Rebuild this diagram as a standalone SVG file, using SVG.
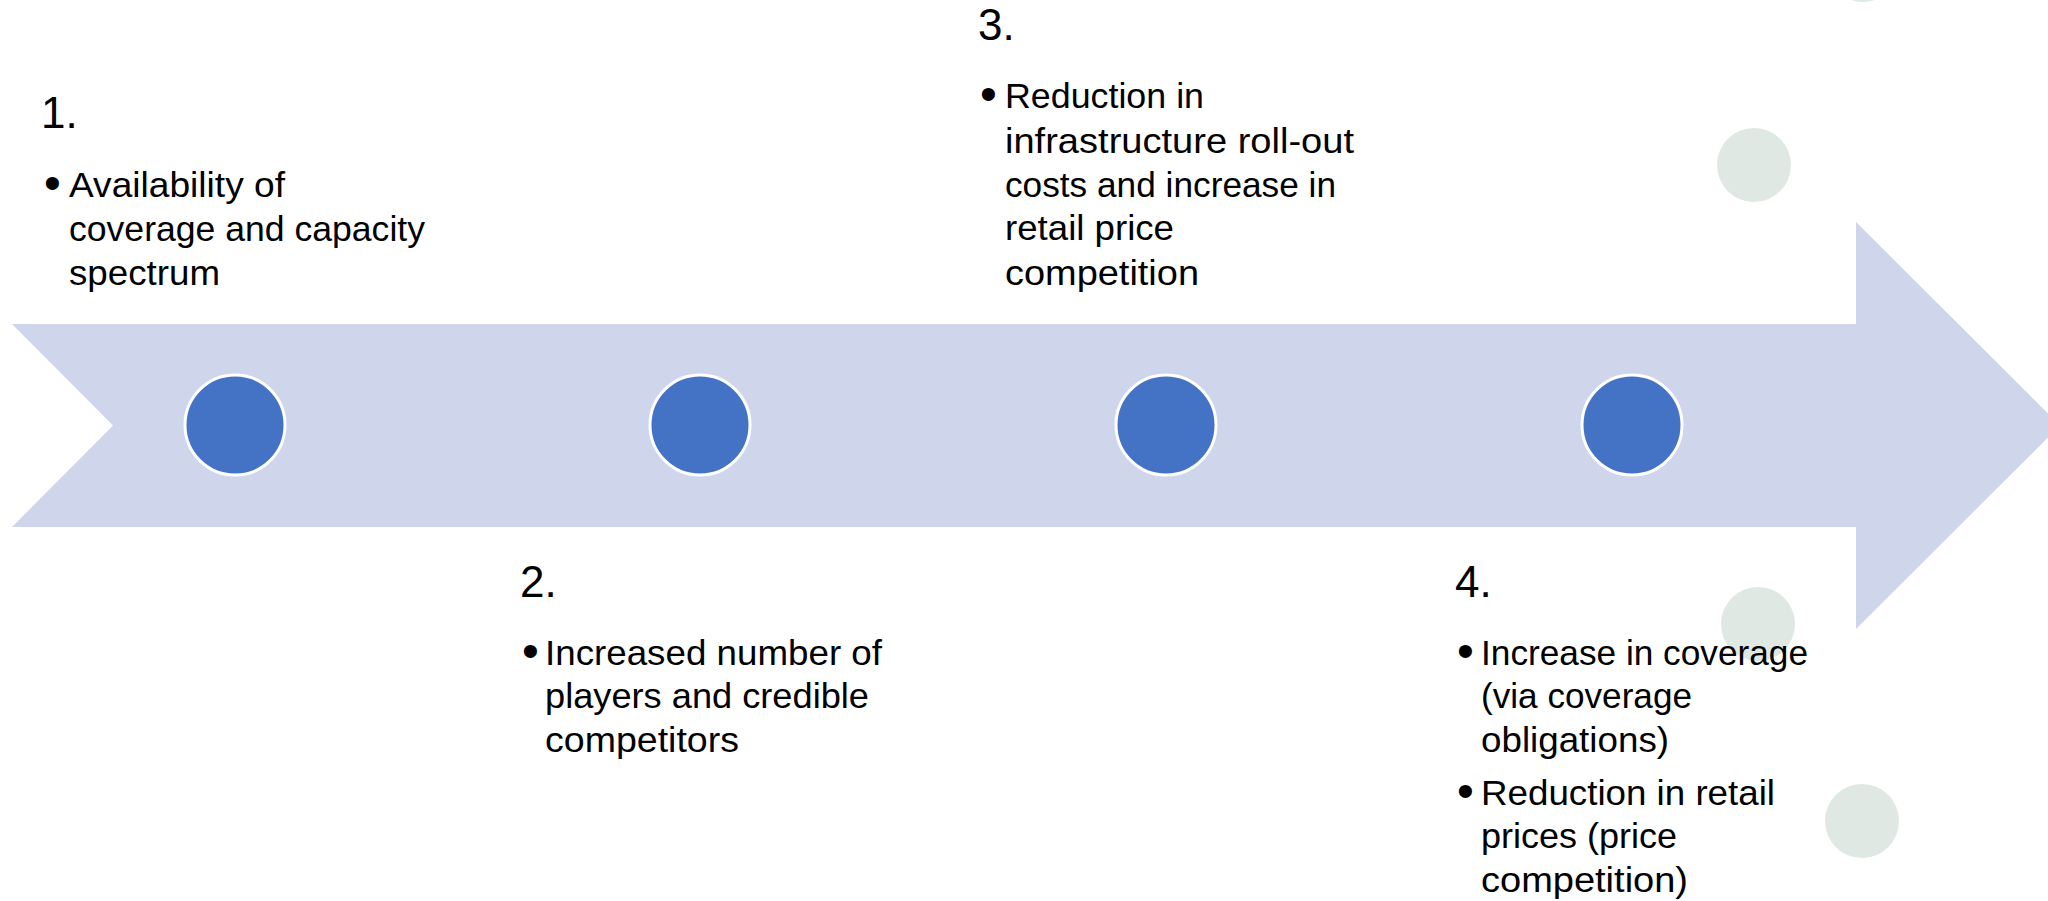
<svg xmlns="http://www.w3.org/2000/svg" width="2048" height="901" viewBox="0 0 2048 901">
<style>
.h{font-family:"Liberation Sans",Arial,sans-serif;font-size:44px;fill:#000}
.t{font-family:"Liberation Sans",Arial,sans-serif;font-size:35px;fill:#000}
.b{font-family:"Liberation Sans",Arial,sans-serif;font-size:48px;fill:#000}
.dot{fill:#4472C4;stroke:#FFFFFF;stroke-width:3}
.deco{fill:#E0E8E4}
</style>
<rect width="2048" height="901" fill="#FFFFFF"/>
<g id="decorations">
<circle class="deco" cx="1863" cy="-35" r="37"/>
<circle class="deco" cx="1754" cy="165" r="37"/>
<circle class="deco" cx="1758" cy="624" r="37"/>
<circle class="deco" cx="1862" cy="821" r="37"/>
</g>
<g id="connectors">
<polygon id="timeline-arrow" points="12,324 1856,324 1856,222 2060,425.5 1856,629 1856,527 12,527 113,425.5" fill="#CFD5EA"/>
</g>
<g id="markers">
<circle class="dot" cx="235" cy="425" r="50"/>
<circle class="dot" cx="700" cy="425" r="50"/>
<circle class="dot" cx="1166" cy="425" r="50"/>
<circle class="dot" cx="1632" cy="425" r="50"/>
</g>
<g id="node1">
<text class="h" x="41" y="128">1.</text>
<text class="b" x="44" y="199">•</text>
<text class="t" x="69" y="197" textLength="216" lengthAdjust="spacingAndGlyphs">Availability of</text>
<text class="t" x="69" y="241" textLength="356" lengthAdjust="spacingAndGlyphs">coverage and capacity</text>
<text class="t" x="69" y="285" textLength="151" lengthAdjust="spacingAndGlyphs">spectrum</text>
</g>
<g id="node2">
<text class="h" x="520" y="597">2.</text>
<text class="b" x="522" y="667">•</text>
<text class="t" x="545" y="665" textLength="337" lengthAdjust="spacingAndGlyphs">Increased number of</text>
<text class="t" x="545" y="708" textLength="324" lengthAdjust="spacingAndGlyphs">players and credible</text>
<text class="t" x="545" y="752" textLength="194" lengthAdjust="spacingAndGlyphs">competitors</text>
</g>
<g id="node3">
<text class="h" x="978" y="40">3.</text>
<text class="b" x="980" y="110">•</text>
<text class="t" x="1005" y="108" textLength="199" lengthAdjust="spacingAndGlyphs">Reduction in</text>
<text class="t" x="1005" y="153" textLength="349" lengthAdjust="spacingAndGlyphs">infrastructure roll-out</text>
<text class="t" x="1005" y="197" textLength="331" lengthAdjust="spacingAndGlyphs">costs and increase in</text>
<text class="t" x="1005" y="240" textLength="169" lengthAdjust="spacingAndGlyphs">retail price</text>
<text class="t" x="1005" y="285" textLength="194" lengthAdjust="spacingAndGlyphs">competition</text>
</g>
<g id="node4">
<text class="h" x="1455" y="597">4.</text>
<text class="b" x="1457" y="667">•</text>
<text class="t" x="1481" y="665" textLength="327" lengthAdjust="spacingAndGlyphs">Increase in coverage</text>
<text class="t" x="1481" y="708" textLength="211" lengthAdjust="spacingAndGlyphs">(via coverage</text>
<text class="t" x="1481" y="752" textLength="188" lengthAdjust="spacingAndGlyphs">obligations)</text>
<text class="b" x="1457" y="807">•</text>
<text class="t" x="1481" y="805" textLength="294" lengthAdjust="spacingAndGlyphs">Reduction in retail</text>
<text class="t" x="1481" y="848" textLength="196" lengthAdjust="spacingAndGlyphs">prices (price</text>
<text class="t" x="1481" y="892" textLength="207" lengthAdjust="spacingAndGlyphs">competition)</text>
</g>
</svg>
